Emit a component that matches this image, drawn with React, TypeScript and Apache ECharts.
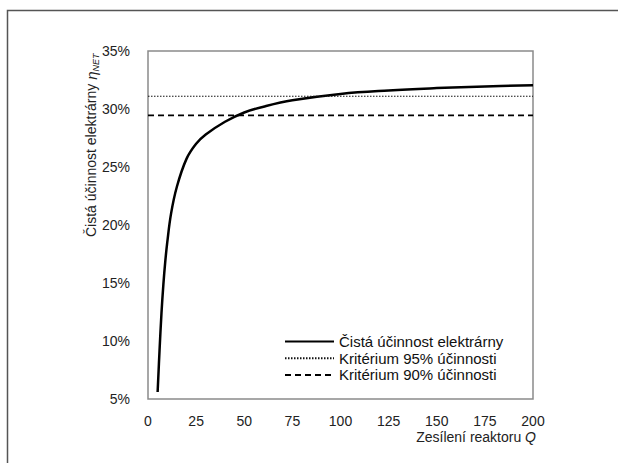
import React, { useEffect, useRef } from "react";
import * as echarts from "echarts";

const gainQ = [5, 6, 7, 8, 9, 10, 12, 15, 20, 25, 30, 40, 50, 60, 75, 100, 125, 150, 175, 200];
const netEfficiency = [5.6, 9.2, 12.4, 14.9, 16.9, 18.5, 21.0, 23.3, 25.7, 27.0, 27.8, 28.9, 29.7, 30.2, 30.75, 31.3, 31.6, 31.8, 31.95, 32.05];
const criterionX = [0, 200];
const criterion95 = 31.1;
const criterion90 = 29.45;
const seriesNames = ["Čistá účinnost elektrárny", "Kritérium 95% účinnosti", "Kritérium 90% účinnosti"];

export default function App() {
  const ref = useRef<HTMLDivElement>(null);
  useEffect(() => {
    if (!ref.current) return;
    const chart = echarts.init(ref.current, null, { renderer: "svg" });
    const font = "Liberation Sans, Arial, sans-serif";
    chart.setOption({
      animation: false,
      backgroundColor: "#ffffff",
      textStyle: { fontFamily: font },
      grid: {
        left: 148,
        top: 51,
        right: 85,
        bottom: 64,
        show: true,
        borderColor: "#8a8a8a",
        borderWidth: 1.5,
      },
      xAxis: {
        type: "value",
        min: 0,
        max: 200,
        interval: 25,
        axisLine: { show: false },
        axisTick: { show: false },
        splitLine: { show: false },
        axisLabel: { color: "#222", fontSize: 14, margin: 15, fontFamily: font },
      },
      yAxis: {
        type: "value",
        min: 5,
        max: 35,
        interval: 5,
        axisLine: { show: false },
        axisTick: { show: false },
        splitLine: { show: false },
        axisLabel: { color: "#222", fontSize: 14, margin: 18, formatter: "{value}%", fontFamily: font },
      },
      legend: {
        orient: "vertical",
        left: 284,
        top: 334,
        padding: 0,
        itemWidth: 49,
        itemHeight: 15,
        itemGap: 1.7,
        itemStyle: { opacity: 0 },
        textStyle: { color: "#111", fontSize: 15, fontFamily: font },
        data: seriesNames,
      },
      series: [
        {
          name: seriesNames[0],
          type: "line",
          data: gainQ.map((q, i) => [q, netEfficiency[i]]),
          smooth: 0.4,
          showSymbol: false,
          symbol: "none",
          lineStyle: { color: "#000", width: 2.5 },
          itemStyle: { color: "#000" },
          z: 3,
        },
        {
          name: seriesNames[1],
          type: "line",
          data: criterionX.map((x) => [x, criterion95]),
          symbol: "none",
          lineStyle: { color: "#111", width: 1, type: [1.5, 1.5] },
          itemStyle: { color: "#111" },
        },
        {
          name: seriesNames[2],
          type: "line",
          data: criterionX.map((x) => [x, criterion90]),
          symbol: "none",
          lineStyle: { color: "#000", width: 1.8, type: [6, 4] },
          itemStyle: { color: "#000" },
        },
      ],
      graphic: [
        {
          type: "polyline",
          shape: { points: [[7.5, 470], [7.5, 10.5], [630, 10.5]] },
          style: { stroke: "#555", lineWidth: 1.5, fill: null },
          silent: true,
        },
        {
          type: "text",
          x: 91,
          y: 237,
          rotation: Math.PI / 2,
          style: {
            text: "{a|Čistá účinnost elektrárny }{b|η}{c|NET}",
            align: "left",
            verticalAlign: "middle",
            rich: {
              a: { fontSize: 14, fontFamily: font, fill: "#222", lineHeight: 18 },
              b: { fontSize: 15, fontFamily: font, fontStyle: "italic", fill: "#222", lineHeight: 18 },
              c: { fontSize: 9, fontFamily: font, fontStyle: "italic", fill: "#222", verticalAlign: "bottom", lineHeight: 18 },
            },
          },
        },
        {
          type: "text",
          x: 536,
          y: 437,
          style: {
            text: "{a|Zesílení reaktoru }{b|Q}",
            align: "right",
            verticalAlign: "middle",
            rich: {
              a: { fontSize: 14, fontFamily: font, fill: "#222" },
              b: { fontSize: 14, fontFamily: font, fontStyle: "italic", fill: "#222" },
            },
          },
        },
      ],
    });
    return () => chart.dispose();
  }, []);
  return (
    <div
      ref={ref}
      style={{ position: "fixed", left: 0, top: 0, width: 618, height: 463, background: "#fff" }}
    />
  );
}
